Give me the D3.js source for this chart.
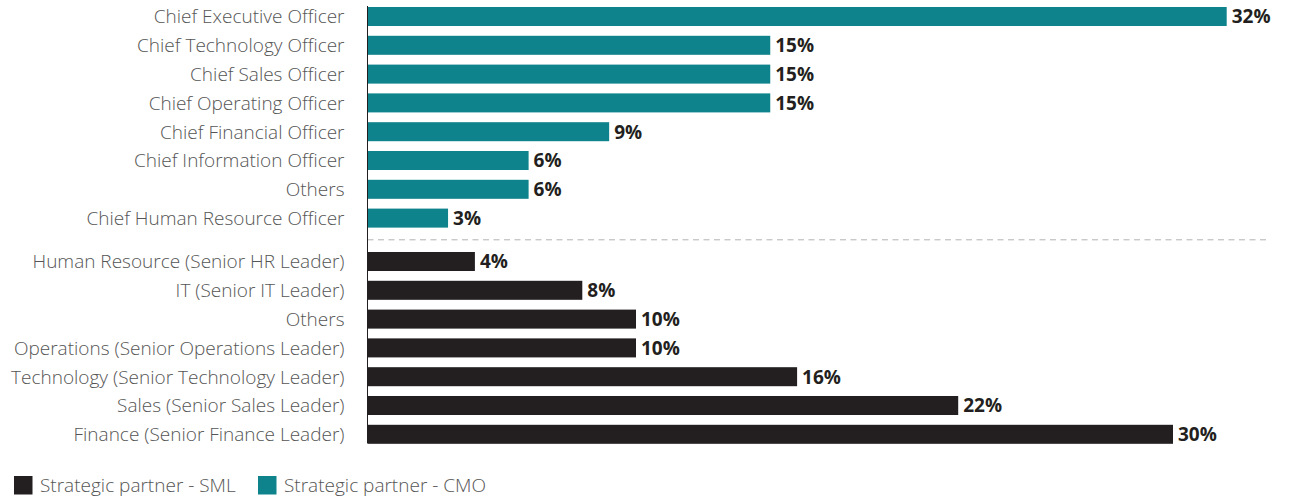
<!DOCTYPE html>
<html>
<head>
<meta charset="utf-8">
<script src="https://cdn.jsdelivr.net/npm/d3@7"></script>
<style>
  html, body { margin: 0; padding: 0; background: #fff; }
  svg { display: block; font-family: "Open Sans", sans-serif; }
</style>
</head>
<body>
<svg id="chart" width="1293" height="498"></svg>
<script>
// Strategic partners of the CMO (top group)
const cmoRoles = [
  "Chief Executive Officer",
  "Chief Technology Officer",
  "Chief Sales Officer",
  "Chief Operating Officer",
  "Chief Financial Officer",
  "Chief Information Officer",
  "Others",
  "Chief Human Resource Officer"
];
const cmoValues = [32, 15, 15, 15, 9, 6, 6, 3];

// Strategic partners of the senior marketing leader (bottom group)
const smlRoles = [
  "Human Resource (Senior HR Leader)",
  "IT (Senior IT Leader)",
  "Others",
  "Operations (Senior Operations Leader)",
  "Technology (Senior Technology Leader)",
  "Sales (Senior Sales Leader)",
  "Finance (Senior Finance Leader)"
];
const smlValues = [4, 8, 10, 10, 16, 22, 30];

const legendLabels = ["Strategic partner - SML", "Strategic partner - CMO"];

const colors = { cmo: "#0e838b", sml: "#231f20" };

const svg = d3.select("#chart");
const x0 = 367.5;
const x = d3.scaleLinear().domain([0, 32]).range([x0, 1226.7]);

const step = 28.8;
const yCmo = d3.scaleBand().domain(cmoRoles)
  .range([2.1, 2.1 + step * cmoRoles.length])
  .paddingInner(0.34).paddingOuter(0.17);
const ySml = d3.scaleBand().domain(smlRoles)
  .range([247.1, 247.1 + step * smlRoles.length])
  .paddingInner(0.34).paddingOuter(0.17);

function drawGroup(roles, values, y, color) {
  const data = roles.map((r, i) => ({ role: r, value: values[i] }));
  const g = svg.append("g");
  g.selectAll("rect").data(data).join("rect")
    .attr("x", x(0) + 0.5)
    .attr("y", d => y(d.role))
    .attr("width", d => x(d.value) - x(0) - 0.5)
    .attr("height", y.bandwidth())
    .attr("fill", color);
  g.selectAll("text.val").data(data).join("text")
    .attr("class", "val")
    .attr("x", d => x(d.value) + 5)
    .attr("y", d => y(d.role) + y.bandwidth() / 2)
    .attr("dy", "0.36em")
    .attr("font-size", 19)
    .attr("font-weight", 700)
    .attr("fill", "#231f20")
    .text(d => d.value + "%");
  // category labels via a left axis without domain/ticks
  const ax = svg.append("g")
    .attr("transform", `translate(${x0},0)`)
    .call(d3.axisLeft(y).tickSize(0).tickPadding(23));
  ax.select(".domain").remove();
  ax.selectAll("text")
    .attr("font-family", "'Open Sans', sans-serif")
    .attr("font-size", 19)
    .attr("font-weight", 300)
    .attr("dy", "0.36em")
    .attr("fill", "#555555");
}

drawGroup(cmoRoles, cmoValues, yCmo, colors.cmo);
drawGroup(smlRoles, smlValues, ySml, colors.sml);

// dashed separator between the two groups
const sepY = (yCmo.range()[1] + ySml.range()[0]) / 2;
svg.append("line")
  .attr("x1", x0).attr("x2", 1270)
  .attr("y1", sepY).attr("y2", sepY)
  .attr("stroke", "#b3b3b3")
  .attr("stroke-width", 1)
  .attr("stroke-dasharray", "6,4.5");

// vertical baseline
svg.append("line")
  .attr("x1", x0).attr("x2", x0)
  .attr("y1", 6).attr("y2", 443.5)
  .attr("stroke", "#231f20")
  .attr("stroke-width", 1);

// legend
const legend = svg.append("g").attr("transform", "translate(14,476)");
const legendItems = [
  { label: legendLabels[0], color: colors.sml, x: 0 },
  { label: legendLabels[1], color: colors.cmo, x: 244 }
];
const li = legend.selectAll("g").data(legendItems).join("g")
  .attr("transform", d => `translate(${d.x},0)`);
li.append("rect").attr("width", 18.5).attr("height", 18.5).attr("fill", d => d.color);
li.append("text")
  .attr("x", 26).attr("y", 9.5).attr("dy", "0.36em")
  .attr("font-size", 19).attr("font-weight", 300).attr("fill", "#555555")
  .text(d => d.label);
</script>
</body>
</html>
